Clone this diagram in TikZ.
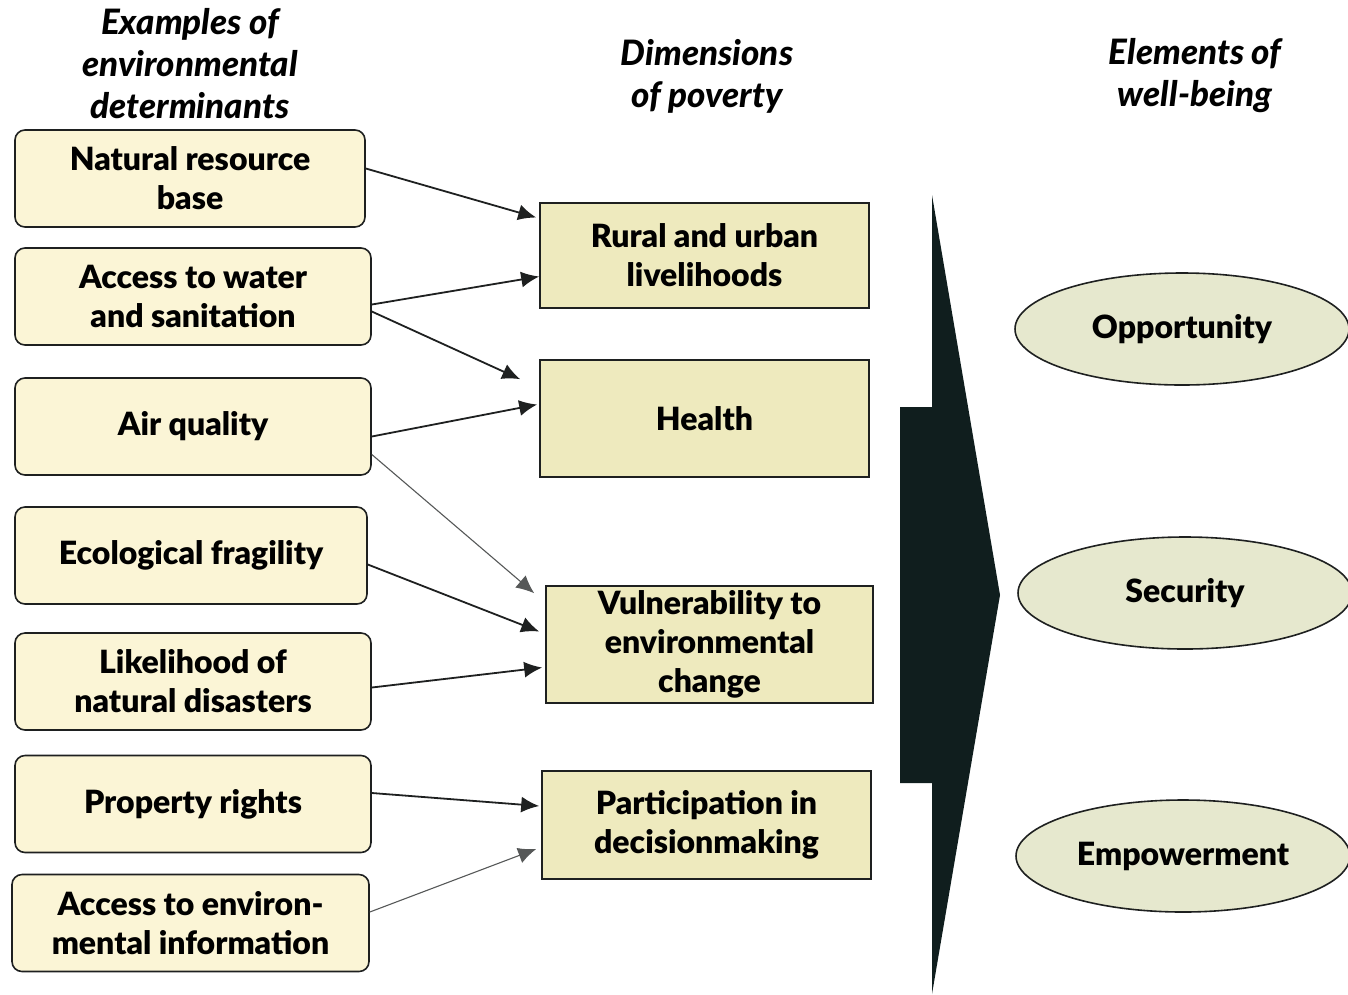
\documentclass[tikz,border=0pt]{standalone}
\usepackage{fontspec}
\setmainfont{Lato}[BoldFont={Lato Black}, BoldItalicFont={Lato Black Italic}]
\usepackage{xcolor}
\usetikzlibrary{arrows.meta,shapes.geometric,positioning}

\definecolor{creamfill}{RGB}{251,245,214}
\definecolor{dimfill}{RGB}{238,234,190}
\definecolor{elemfill}{RGB}{230,232,206}
\definecolor{inkline}{RGB}{30,32,32}
\definecolor{wedgefill}{RGB}{16,30,30}

\begin{document}
\begin{tikzpicture}[x=1pt,y=-1pt,
    determ/.style={draw=inkline, line width=1.6pt, fill=creamfill, rounded corners=10pt,
        minimum height=97pt, align=center, font=\fontsize{32}{39}\selectfont\bfseries},
    dimbox/.style={draw=inkline, line width=1.6pt, fill=dimfill,
        align=center, font=\fontsize{32}{39}\selectfont\bfseries},
    element/.style={draw=inkline, line width=1.6pt, fill=elemfill, ellipse,
        minimum width=334pt, minimum height=112pt, font=\fontsize{32}{39}\selectfont\bfseries},
    heading/.style={align=center, font=\fontsize{35}{42}\selectfont\bfseries\itshape},
    link/.style={->, >={Latex[length=18pt,width=16pt]}, draw=inkline, line width=1.8pt},
    thinlink/.style={->, >={Latex[length=18pt,width=16pt]}, draw=inkline!75, line width=1.1pt}]

    \useasboundingbox (0,0) rectangle (1348,994);

    % column headings
    \node[heading] (hdet) at (190,64) {Examples of\\environmental\\determinants};
    \node[heading] (hdim) at (707,76) {Dimensions\\of poverty};
    \node[heading] (hele) at (1195,76) {Elements of\\well-being};

    % environmental determinants
    \node[determ, minimum width=350pt] (nrb) at (190,178.5) {Natural resource\\base};
    \node[determ, minimum width=356pt] (water) at (193,296.5) {Access to water\\and sanitation};
    \node[determ, minimum width=356pt] (air) at (193,426.5) {Air quality};
    \node[determ, minimum width=352pt] (eco) at (191,555.5) {Ecological fragility};
    \node[determ, minimum width=356pt] (likely) at (193,681.5) {Likelihood of\\natural disasters};
    \node[determ, minimum width=356pt] (prop) at (193,804) {Property rights};
    \node[determ, minimum width=357pt] (info) at (190.5,923) {Access to environ-\\mental information};

    % dimensions of poverty
    \node[dimbox, minimum width=329pt, minimum height=105pt] (rural) at (704.5,255.5) {Rural and urban\\livelihoods};
    \node[dimbox, minimum width=329pt, minimum height=117pt] (health) at (704.5,418.5) {Health};
    \node[dimbox, minimum width=327pt, minimum height=117pt] (vuln) at (709.5,644.5) {Vulnerability to\\environmental\\change};
    \node[dimbox, minimum width=329pt, minimum height=108pt] (decide) at (706.5,825) {Participation in\\decisionmaking};

    % big arrow
    \fill[wedgefill] (932,195) -- (1000,595) -- (932,994) -- (932,783) -- (900,783)
        -- (900,407) -- (932,407) -- cycle;

    % elements of well-being
    \node[element] (opp) at (1182,329) {Opportunity};
    \node[element] (sec) at (1185,593) {Security};
    \node[element] (emp) at (1183,856) {Empowerment};

    % links
    \draw[link] ([yshift=10pt]nrb.east) -- ([xshift=-3pt,yshift=38pt]rural.west);
    \draw[link] ([yshift=-8pt]water.east) -- ([yshift=-21pt]rural.west);
    \draw[link] ([yshift=-15pt]water.east) -- ([xshift=-19pt,yshift=-20pt]health.north west);
    \draw[link] ([yshift=-10pt]air.east) -- ([xshift=-2pt,yshift=14pt]health.west);
    \draw[thinlink] ([yshift=-28pt]air.east) -- ([xshift=-11pt,yshift=-8pt]vuln.north west);
    \draw[link] ([yshift=-9pt]eco.east) -- ([xshift=-6pt,yshift=13pt]vuln.west);
    \draw[link] ([yshift=-6pt]likely.east) -- ([xshift=-3pt,yshift=-23pt]vuln.west);
    \draw[link] ([yshift=11pt]prop.east) -- ([xshift=-2pt,yshift=19pt]decide.west);
    \draw[thinlink] ([yshift=11pt]info.east) -- ([xshift=-5pt,yshift=-24pt]decide.west);
\end{tikzpicture}
\end{document}
